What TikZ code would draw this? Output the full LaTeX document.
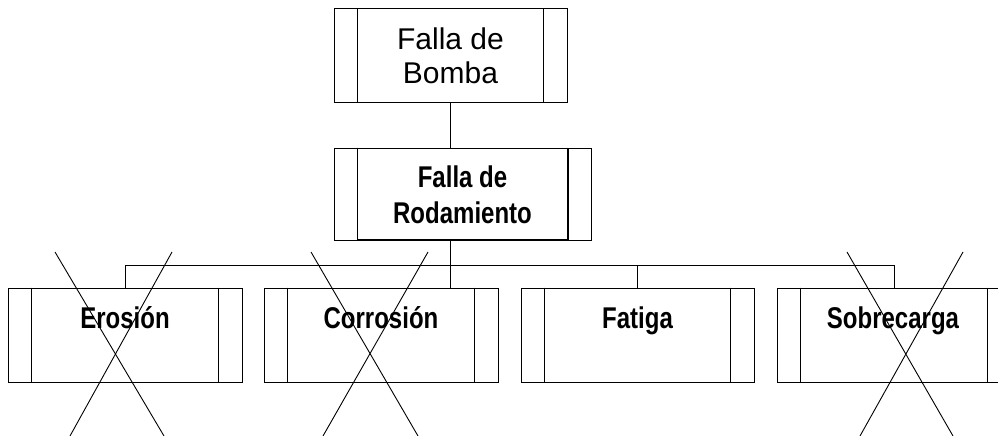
\documentclass[tikz,border=0pt]{standalone}
\usepackage{fontspec}
\setmainfont{Liberation Sans}
\newfontfamily\condbold{Liberation Sans Bold}[FakeStretch=0.8]
\begin{document}
\begin{tikzpicture}[x=1pt,y=-1pt,
  box/.style={draw=black, line width=1pt, fill=white, inner sep=0pt, minimum height=94pt},
  reglbl/.style={font=\fontsize{30}{33}\selectfont, inner sep=0pt, anchor=base, align=center},
  boldlbl/.style={font=\condbold\fontsize{30}{36}\selectfont, inner sep=0pt, anchor=base, align=center},
  conn/.style={draw=black, line width=1pt},
  cross/.style={draw=black, line width=0.9pt}]
\useasboundingbox (0,0) rectangle (998,436);
\begin{scope}
\clip (0,0) rectangle (998,436);
% boxes
\node[box, minimum width=233pt, minimum height=93pt] (tb) at (450.5,55.5) {};
\node[box, minimum width=257pt, minimum height=92pt] (rb) at (462.5,194) {};
\node[box, minimum width=234pt] (ero) at (125,335) {};
\node[box, minimum width=234pt] (cor) at (381,335) {};
\node[box, minimum width=233pt] (fat) at (637.5,335) {};
\node[box, minimum width=234pt] (sob) at (894,335) {};
% inner side bands
\foreach \n in {tb,rb,ero,cor,fat,sob}{
  \draw[line width=1pt] ([xshift=24pt]\n.north west) -- ([xshift=24pt]\n.south west);
  \draw[line width=1pt] ([xshift=-24pt]\n.north east) -- ([xshift=-24pt]\n.south east);
}
% shadow on the selected box
\draw[line width=2pt] ([xshift=24pt,yshift=0.5pt]rb.south west) -- ([xshift=-24pt,yshift=0.5pt]rb.south east) -- ([xshift=-24pt]rb.north east);
% labels
\node[reglbl] (tbt) at (450.5,83) {Falla de\\Bomba};
\node[boldlbl] (rbt) at (462.5,223) {Falla de\\Rodamiento};
\node[boldlbl] (erot) at (125,328) {Erosión};
\node[boldlbl] (cort) at (381,328) {Corrosión};
\node[boldlbl] (fatt) at (637.5,328) {Fatiga};
\node[boldlbl] (sobt) at (893,328) {Sobrecarga};
% connectors
\coordinate (bus) at (125,265);
\draw[conn] (tb.south) -- (tb.south |- rb.north);
\draw[conn] (tb.south |- rb.south) -- (tb.south |- cor.north);
\draw[conn] (ero.north) -- (ero.north |- bus) -- (sob.north |- bus) -- (sob.north);
\draw[conn] (fat.north |- bus) -- (fat.north);
% crosses
\coordinate (e1) at (55,252); \coordinate (e2) at (164,436);
\coordinate (e3) at (172,252); \coordinate (e4) at (70,436);
\coordinate (c1) at (311,252); \coordinate (c2) at (418,436);
\coordinate (c3) at (428,252); \coordinate (c4) at (323,436);
\coordinate (s1) at (847,252); \coordinate (s2) at (953,436);
\coordinate (s3) at (963,252); \coordinate (s4) at (860,436);
\draw[cross] (e1) -- (e2); \draw[cross] (e3) -- (e4);
\draw[cross] (c1) -- (c2); \draw[cross] (c3) -- (c4);
\draw[cross] (s1) -- (s2); \draw[cross] (s3) -- (s4);
\end{scope}
\end{tikzpicture}
\end{document}
